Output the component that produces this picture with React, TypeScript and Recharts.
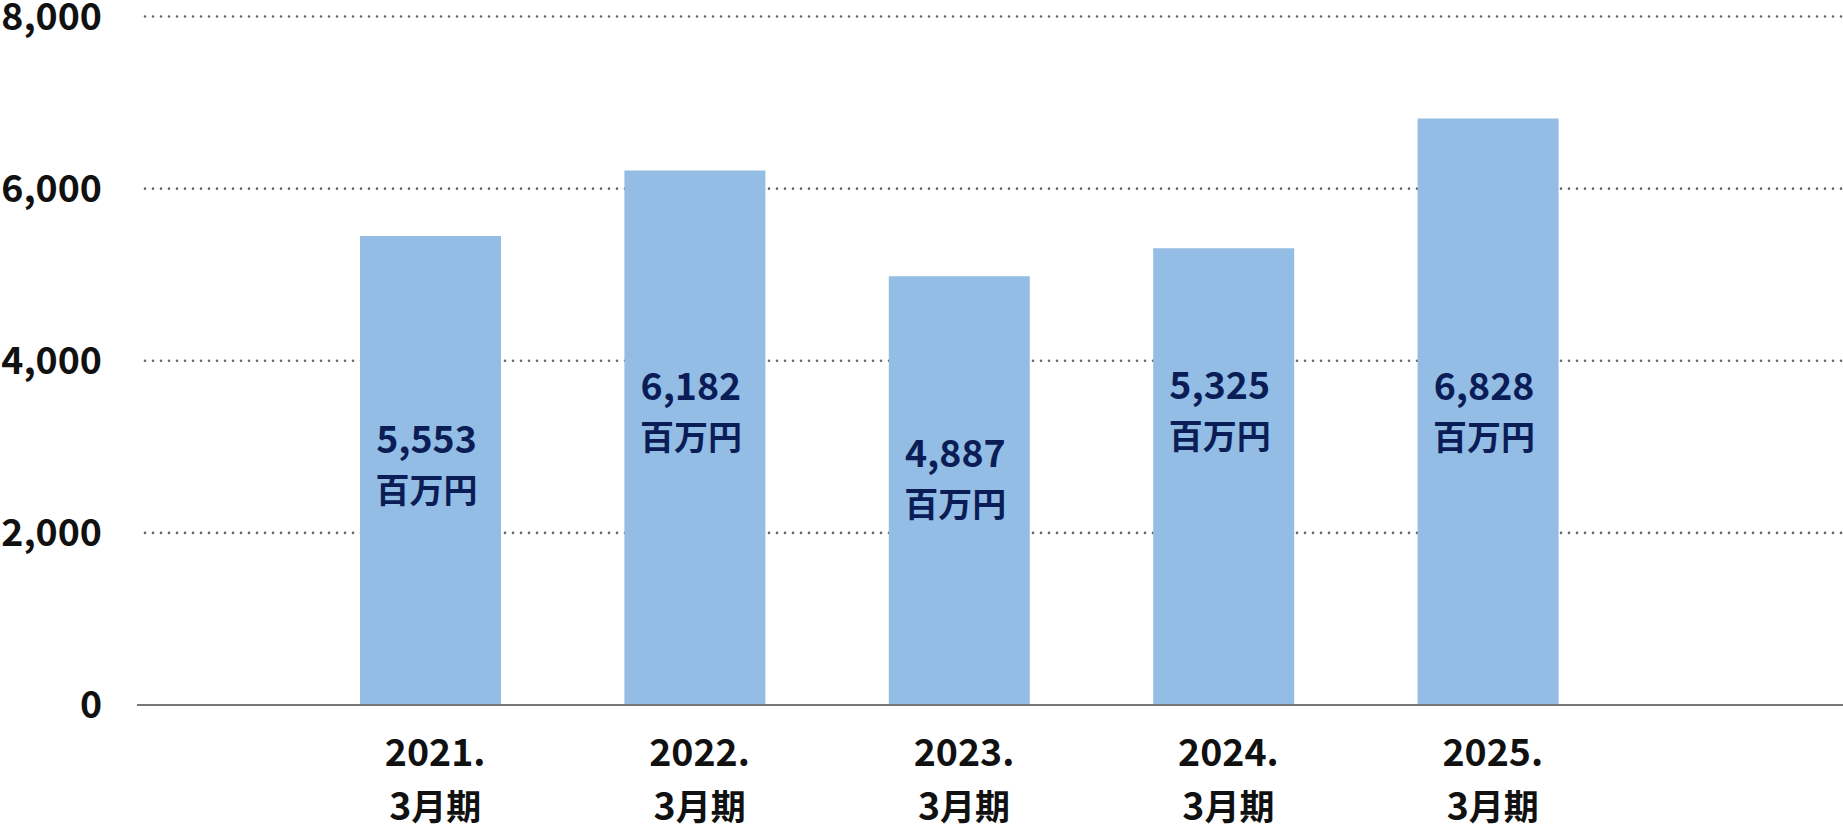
import React from 'react';
import { BarChart, Bar, XAxis, YAxis, CartesianGrid, LabelList } from 'recharts';

// ---- data ----
const categories = ['2021.', '2022.', '2023.', '2024.', '2025.'];
const periods = ['3月期', '3月期', '3月期', '3月期', '3月期'];
const barValues = [5449, 6212, 4981, 5306, 6816];
const labelValues = [5553, 6182, 4887, 5325, 6828];
const unitLabel = '百万円';
const yTicks = [0, 2000, 4000, 6000, 8000];
const gridValues = [2000, 4000, 6000, 8000];

// ---- style ----
const labelLift = [252, 305, 238, 306, 305];
const FONT = '"Noto Sans CJK JP", "Noto Sans", sans-serif';
const NUM_SIZE = 37.5;
const CJK_SIZE = 34;
const BAR_COLOR = '#93bde4';
const LABEL_COLOR = '#0b1d57';

const data = categories.map((c, i) => ({
  name: c,
  period: periods[i],
  value: barValues[i],
  label: labelValues[i],
}));

const splitDigits = (s: string) => {
  const m = s.match(/^([0-9.,]*)(.*)$/);
  return m ? [m[1], m[2]] : ['', s];
};

const YTick = (props: any) => {
  const { x, y, payload } = props;
  return (
    <text x={x} y={y + 13} textAnchor="end" fontFamily={FONT} fontWeight={700} fontSize={NUM_SIZE} fill="#111">
      {Number(payload.value).toLocaleString('en-US')}
    </text>
  );
};

const XTick = (props: any) => {
  const { x, y, index } = props;
  const d = data[index];
  const [num, rest] = splitDigits(d.period);
  return (
    <g>
      <text x={x + 5} y={y + 61} textAnchor="middle" fontFamily={FONT} fontWeight={700} fontSize={NUM_SIZE} fill="#111">
        {d.name}
      </text>
      <text x={x + 5} y={y + 115} textAnchor="middle" fontFamily={FONT} fontWeight={700} fill="#111">
        <tspan fontSize={NUM_SIZE}>{num}</tspan>
        <tspan fontSize={CJK_SIZE + 1}>{rest}</tspan>
      </text>
    </g>
  );
};

const BarLabel = (props: any) => {
  const { x, y, width, height, index } = props;
  const cx = x + width / 2 - 4;
  const base = y + height - labelLift[index];
  return (
    <g>
      <text x={cx} y={base} textAnchor="middle" fontFamily={FONT} fontWeight={700} fontSize={NUM_SIZE} fill={LABEL_COLOR}>
        {labelValues[index].toLocaleString('en-US')}
      </text>
      <text x={cx} y={base + 50} textAnchor="middle" fontFamily={FONT} fontWeight={700} fontSize={CJK_SIZE} fill={LABEL_COLOR}>
        {unitLabel}
      </text>
    </g>
  );
};

export default function App() {
  return (
    <div style={{ width: 1843, height: 835, background: '#fff' }}>
      <style>{`body{margin:0;}`}</style>
      <BarChart
        width={1843}
        height={835}
        data={data}
        margin={{ top: 16.5, right: 0, bottom: 0, left: 0 }}
      >
        <CartesianGrid
          vertical={false}
          horizontalValues={gridValues}
          horizontal={(p: any) => (
            <line
              key={p.key}
              x1={p.x1 + 8}
              y1={p.y1}
              x2={p.x2}
              y2={p.y2}
              stroke="#666"
              strokeWidth={2.6}
              strokeDasharray="0 8"
              strokeLinecap="round"
            />
          )}
        />
        <XAxis
          dataKey="name"
          height={130}
          padding={{ left: 161, right: 223 }}
          tickLine={false}
          tickSize={0}
          tickMargin={0}
          axisLine={{ stroke: '#777', strokeWidth: 2 }}
          tick={<XTick />}
          interval={0}
        />
        <YAxis
          width={137}
          domain={[0, 8000]}
          ticks={yTicks}
          axisLine={false}
          tickLine={false}
          tickSize={0}
          tickMargin={35}
          tick={<YTick />}
          interval={0}
        />
        <Bar dataKey="value" fill={BAR_COLOR} barSize={141} isAnimationActive={false}>
          <LabelList dataKey="label" content={<BarLabel />} />
        </Bar>
      </BarChart>
    </div>
  );
}
